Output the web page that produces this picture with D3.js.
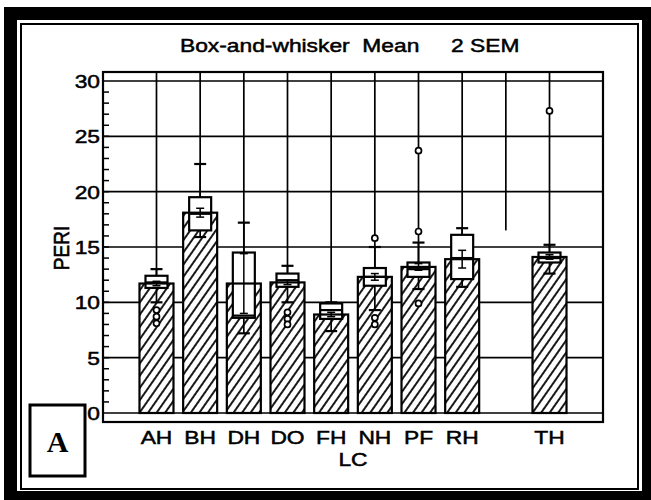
<!DOCTYPE html>
<html>
<head>
<meta charset="utf-8">
<script src="https://cdn.jsdelivr.net/npm/d3@7"></script>
<style>
  html, body { margin: 0; padding: 0; background: #fff; }
  svg { display: block; }
</style>
</head>
<body>
<svg id="chart" width="651" height="500"></svg>
<script>
// Category slots along the x axis (one slot is left empty)
const slots = ["AH", "BH", "DH", "DO", "FH", "NH", "PF", "RH", " ", "TH"];

// Per-category statistics of PERI
const meanVals   = [11.7, 18.1, 11.7, 11.8,  8.9, 12.3, 13.2, 13.9, null, 14.1];
const q1Vals     = [11.3, 16.5,  8.6, 11.4,  8.5, 11.5, 12.3, 12.1, null, 13.6];
const q3Vals     = [12.4, 19.5, 14.5, 12.6,  9.9, 13.1, 13.6, 16.1, null, 14.5];
const medianVals = [11.8, 18.0,  8.8, 12.0,  9.3, 12.3, 13.0, 14.0, null, 14.0];
const sem2Lo     = [11.5, 17.7,  9.0, 11.6,  8.7, 12.0, 12.9, 13.1, null, 13.9];
const sem2Hi     = [11.9, 18.5, 14.4, 12.0,  9.1, 12.6, 13.5, 14.7, null, 14.3];
const whiskerLo  = [10.0, 15.9,  7.2, 10.0,  7.4,  9.3, 11.2, 11.4, null, 12.6];
const whiskerHi  = [13.0, 22.5, 17.2, 13.3, 10.0, 15.0, 15.4, 16.7, null, 15.2];
const outlierVals = [
  [9.3, 8.7, 8.1], [], [], [9.1, 8.5, 8.0], [],
  [15.8, 8.6, 8.0], [23.7, 16.4, 9.9], [], [], [27.3]
];
// Lower end of each category gridline (empty slot stops early)
const gridEnd = [0, 0, 0, 0, 0, 0, 0, 0, 16.5, 0];

const yTicks = [0, 5, 10, 15, 20, 25, 30];
const titleLeft = "Box-and-whisker  Mean";
const titleRight = "2 SEM";
const yTitle = "PERI";
const xTitle = "LC";
const panelLetter = "A";

const svg = d3.select("#chart");
const STRETCH = 1.2;   // lettering is set wide
const FS = 19;
const SANS = "'Liberation Sans', Arial, sans-serif";

// Outer heavy frame and inner rule
svg.append("rect").attr("x", 4).attr("y", 7).attr("width", 647).attr("height", 493).attr("fill", "#000");
svg.append("rect").attr("x", 17).attr("y", 20).attr("width", 625).attr("height", 471).attr("fill", "#fff");
svg.append("rect").attr("x", 21).attr("y", 24).attr("width", 617).attr("height", 465)
  .attr("fill", "none").attr("stroke", "#000").attr("stroke-width", 2);

// Plot geometry
const frame = { x0: 103, x1: 603, y0: 72, y1: 422 };
const x = d3.scalePoint().domain(slots).range([frame.x0, frame.x1]).padding(1.225);
const y = d3.scaleLinear().domain([0, 30]).range([413, 81]);

const defs = svg.append("defs");
const pat = defs.append("pattern").attr("id", "hatch")
  .attr("patternUnits", "userSpaceOnUse").attr("width", 7).attr("height", 10)
  .attr("patternTransform", "rotate(35)");
pat.append("rect").attr("width", 7).attr("height", 10).attr("fill", "#fff");
pat.append("line").attr("x1", 1).attr("x2", 1).attr("y1", 0).attr("y2", 10)
  .attr("stroke", "#000").attr("stroke-width", 1.8);

const g = svg.append("g");

// Horizontal gridlines at the major ticks
g.selectAll("line.hgrid").data(yTicks).join("line")
  .attr("class", "hgrid")
  .attr("x1", frame.x0).attr("x2", frame.x1)
  .attr("y1", d => y(d)).attr("y2", d => y(d))
  .attr("stroke", "#000").attr("stroke-width", 1.7);

// Minor ticks every unit, inside the left edge
g.selectAll("line.minor").data(d3.range(1, 30)).join("line")
  .attr("class", "minor")
  .attr("x1", frame.x0).attr("x2", frame.x0 + 6)
  .attr("y1", d => y(d)).attr("y2", d => y(d))
  .attr("stroke", "#000").attr("stroke-width", 1.5);

// Vertical gridlines at each category slot
g.selectAll("line.vgrid").data(slots).join("line")
  .attr("class", "vgrid")
  .attr("x1", d => x(d)).attr("x2", d => x(d))
  .attr("y1", frame.y0).attr("y2", (d, i) => y(gridEnd[i]))
  .attr("stroke", "#000").attr("stroke-width", 1.7);

// Plot frame
g.append("rect").attr("x", frame.x0).attr("y", frame.y0)
  .attr("width", frame.x1 - frame.x0).attr("height", frame.y1 - frame.y0)
  .attr("fill", "none").attr("stroke", "#000").attr("stroke-width", 2.2);

const rows = slots.map((s, i) => ({
  s, mean: meanVals[i], q1: q1Vals[i], q3: q3Vals[i], med: medianVals[i],
  lo: sem2Lo[i], hi: sem2Hi[i], wLo: whiskerLo[i], wHi: whiskerHi[i], out: outlierVals[i]
})).filter(r => r.mean != null);

const barW = 34, boxW = 22, capW = 12, iCapW = 8;

// Hatched mean bars (fill only; outlines are drawn over the boxes)
g.selectAll("rect.bar").data(rows).join("rect")
  .attr("class", "bar")
  .attr("x", d => x(d.s) - barW / 2).attr("width", barW)
  .attr("y", d => y(d.mean)).attr("height", d => y(0) - y(d.mean))
  .attr("fill", "url(#hatch)");

// Whiskers
const wg = g.selectAll("g.wh").data(rows).join("g").attr("class", "wh");
wg.append("line")
  .attr("x1", d => x(d.s)).attr("x2", d => x(d.s))
  .attr("y1", d => y(d.q3)).attr("y2", d => y(d.wHi))
  .attr("stroke", "#000").attr("stroke-width", 1.7);
wg.append("line")
  .attr("x1", d => x(d.s)).attr("x2", d => x(d.s))
  .attr("y1", d => y(d.q1)).attr("y2", d => y(d.wLo))
  .attr("stroke", "#000").attr("stroke-width", 1.7);
wg.append("line")
  .attr("x1", d => x(d.s) - capW / 2).attr("x2", d => x(d.s) + capW / 2)
  .attr("y1", d => y(d.wHi)).attr("y2", d => y(d.wHi))
  .attr("stroke", "#000").attr("stroke-width", 2.2);
wg.append("line")
  .attr("x1", d => x(d.s) - capW / 2).attr("x2", d => x(d.s) + capW / 2)
  .attr("y1", d => y(d.wLo)).attr("y2", d => y(d.wLo))
  .attr("stroke", "#000").attr("stroke-width", 2.2);

// Boxes (interquartile range)
g.selectAll("rect.box").data(rows).join("rect")
  .attr("class", "box")
  .attr("x", d => x(d.s) - boxW / 2).attr("width", boxW)
  .attr("y", d => y(d.q3)).attr("height", d => y(d.q1) - y(d.q3))
  .attr("fill", "#fff").attr("stroke", "#000").attr("stroke-width", 2.2);

// Bar outlines
g.selectAll("rect.barEdge").data(rows).join("rect")
  .attr("class", "barEdge")
  .attr("x", d => x(d.s) - barW / 2).attr("width", barW)
  .attr("y", d => y(d.mean)).attr("height", d => y(0) - y(d.mean))
  .attr("fill", "none").attr("stroke", "#000").attr("stroke-width", 2.2);

// Median line
g.selectAll("line.med").data(rows).join("line")
  .attr("class", "med")
  .attr("x1", d => x(d.s) - boxW / 2).attr("x2", d => x(d.s) + boxW / 2)
  .attr("y1", d => y(d.med)).attr("y2", d => y(d.med))
  .attr("stroke", "#000").attr("stroke-width", 2.2);

// Mean +/- 2 SEM interval
const ig = g.selectAll("g.sem").data(rows).join("g").attr("class", "sem");
ig.append("line")
  .attr("x1", d => x(d.s)).attr("x2", d => x(d.s))
  .attr("y1", d => y(d.hi)).attr("y2", d => y(d.lo))
  .attr("stroke", "#000").attr("stroke-width", 1.5);
["hi", "lo"].forEach(k => {
  ig.append("line")
    .attr("x1", d => x(d.s) - iCapW / 2).attr("x2", d => x(d.s) + iCapW / 2)
    .attr("y1", d => y(d[k])).attr("y2", d => y(d[k]))
    .attr("stroke", "#000").attr("stroke-width", 1.5);
});

// Outliers
const outs = rows.flatMap(r => r.out.map(v => ({ s: r.s, v })));
g.selectAll("circle.out").data(outs).join("circle")
  .attr("class", "out")
  .attr("cx", d => x(d.s)).attr("cy", d => y(d.v)).attr("r", 3)
  .attr("fill", "#fff").attr("stroke", "#000").attr("stroke-width", 1.7);

// Text helper: wide-set, slightly heavy lettering
function wideText(parent, tx, ty, str, anchor, extra) {
  return parent.append("text")
    .attr("transform", `translate(${tx},${ty}) scale(${STRETCH},1)` + (extra || ""))
    .attr("text-anchor", anchor)
    .attr("font-family", SANS).attr("font-size", FS)
    .attr("fill", "#000").attr("stroke", "#000").attr("stroke-width", 0.5)
    .text(str);
}

// Title
wideText(svg, 180, 52, titleLeft, "start").style("white-space", "pre");
wideText(svg, 451, 52, titleRight, "start");

// Y tick labels
yTicks.forEach(t => wideText(svg, 100, y(t) + 7, String(t), "end"));

// X category labels
slots.forEach(s => wideText(svg, x(s), 444, s.trim(), "middle"));

// Axis titles
wideText(svg, 353, 466, xTitle, "middle");
wideText(svg, 69, 248, yTitle, "middle", " rotate(-90)");

// Panel letter box
svg.append("rect").attr("x", 30).attr("y", 405).attr("width", 55).attr("height", 71)
  .attr("fill", "#fff").attr("stroke", "#000").attr("stroke-width", 3);
svg.append("text").attr("x", 57.5).attr("y", 452).attr("text-anchor", "middle")
  .attr("font-family", "'Liberation Serif', 'Times New Roman', serif")
  .attr("font-weight", "bold").attr("font-size", 30).attr("fill", "#000")
  .text(panelLetter);
</script>
</body>
</html>
